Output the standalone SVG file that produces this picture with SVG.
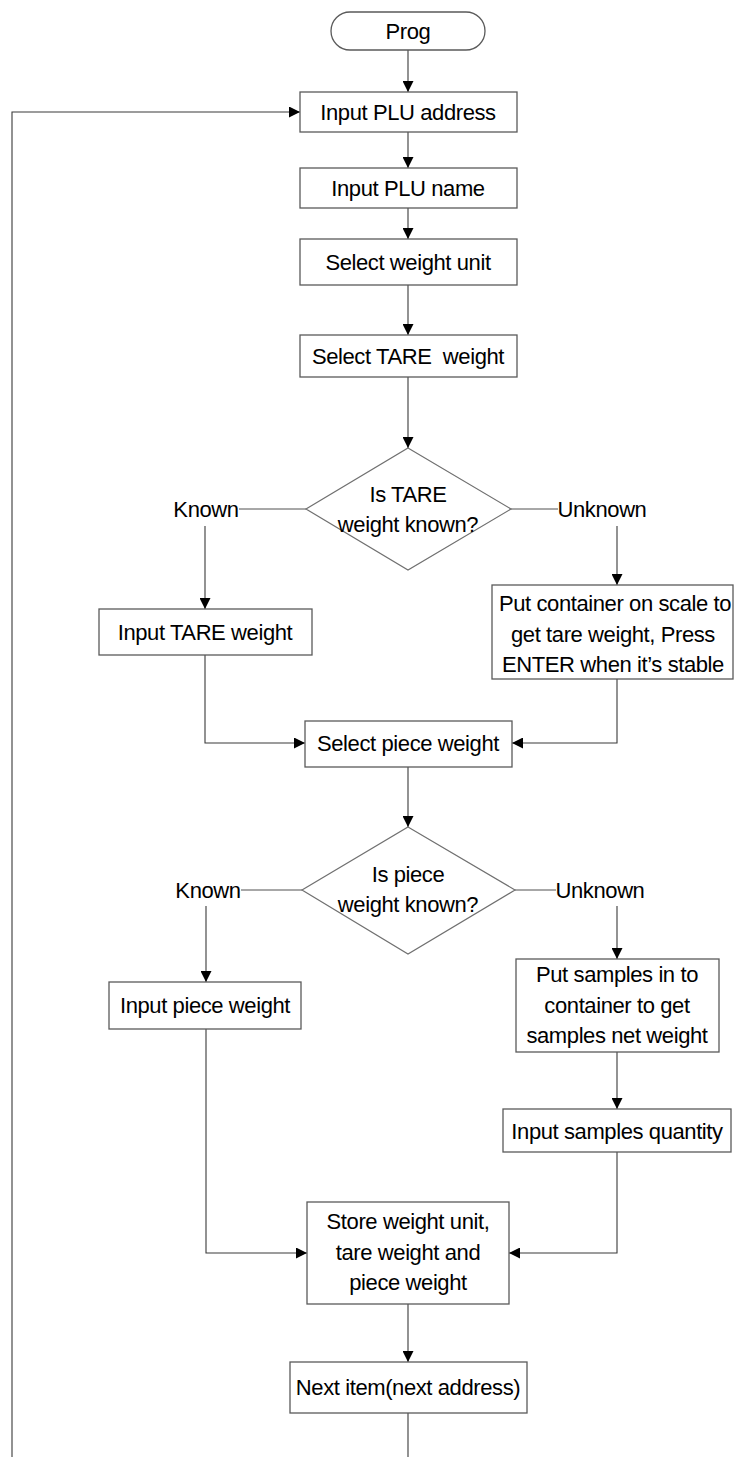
<svg xmlns="http://www.w3.org/2000/svg" width="734" height="1457" viewBox="0 0 734 1457">
<style>
.bg{fill:#ffffff}
.box{fill:#ffffff;stroke:#5a5a5a;stroke-width:1.3}
.dia{fill:#ffffff;stroke:#707070;stroke-width:1.2}
.ln{fill:none;stroke:#3a3a3a;stroke-width:1.1}
.lnk{fill:none;stroke:#505050;stroke-width:1}
.t{font-family:"Liberation Sans",Arial,sans-serif;font-size:22px;letter-spacing:-0.4px;fill:#000000;text-anchor:middle}
</style>
<defs>
<marker id="ah" markerUnits="userSpaceOnUse" markerWidth="11" markerHeight="11" refX="11" refY="5.5" orient="auto">
<path d="M0,0 L11,5.5 L0,11 z" fill="#000000"/>
</marker>
</defs>
<rect class="bg" x="0" y="0" width="734" height="1457"/>
<g id="connectors">
<path class="ln" d="M408,50 V92" marker-end="url(#ah)"/>
<path class="ln" d="M408,132 V168" marker-end="url(#ah)"/>
<path class="ln" d="M408,208 V239" marker-end="url(#ah)"/>
<path class="ln" d="M408,285 V335" marker-end="url(#ah)"/>
<path class="ln" d="M408,377 V448" marker-end="url(#ah)"/>
<path class="lnk" d="M306,509 H239"/>
<path class="ln" d="M205,526 V609" marker-end="url(#ah)"/>
<path class="lnk" d="M511,509 H558"/>
<path class="ln" d="M617,526 V585" marker-end="url(#ah)"/>
<path class="ln" d="M205,655 V743 H305" marker-end="url(#ah)"/>
<path class="ln" d="M617,679 V743 H512" marker-end="url(#ah)"/>
<path class="ln" d="M408,767 V827" marker-end="url(#ah)"/>
<path class="lnk" d="M302,890 H241"/>
<path class="ln" d="M206,906 V982" marker-end="url(#ah)"/>
<path class="lnk" d="M515,890 H556"/>
<path class="ln" d="M617,906 V959" marker-end="url(#ah)"/>
<path class="ln" d="M617,1052 V1109" marker-end="url(#ah)"/>
<path class="ln" d="M206,1029 V1253 H307" marker-end="url(#ah)"/>
<path class="ln" d="M617,1152 V1253 H509" marker-end="url(#ah)"/>
<path class="ln" d="M408,1304 V1362" marker-end="url(#ah)"/>
<path class="ln" d="M408,1413 V1457"/>
<path class="ln" d="M12,1457 V112 H300" stroke-width="1.4" marker-end="url(#ah)"/>
</g>
<g id="prog">
<rect class="box" x="331" y="12" width="154" height="38" rx="19" ry="19"/>
<text class="t" x="408" y="39">Prog</text>
</g>
<g id="input-plu-address">
<rect class="box" x="300" y="92" width="217" height="40"/>
<text class="t" x="408" y="120">Input PLU address</text>
</g>
<g id="input-plu-name">
<rect class="box" x="300" y="168" width="217" height="40"/>
<text class="t" x="408" y="196">Input PLU name</text>
</g>
<g id="select-weight-unit">
<rect class="box" x="300" y="239" width="217" height="46"/>
<text class="t" x="408" y="270">Select weight unit</text>
</g>
<g id="select-tare-weight">
<rect class="box" x="300" y="335" width="217" height="42"/>
<text class="t" x="408" y="364" xml:space="preserve">Select TARE  weight</text>
</g>
<g id="is-tare-known">
<polygon class="dia" points="408,448 511,509 408,570 306,509"/>
<text class="t" x="408" y="502">Is TARE</text>
<text class="t" x="408" y="532">weight known?</text>
</g>
<g id="label-known-1">
<text class="t" x="206" y="517">Known</text>
</g>
<g id="label-unknown-1">
<text class="t" x="602" y="517">Unknown</text>
</g>
<g id="input-tare-weight">
<rect class="box" x="99" y="609" width="213" height="46"/>
<text class="t" x="205" y="640">Input TARE weight</text>
</g>
<g id="put-container">
<rect class="box" x="492" y="585" width="241" height="94"/>
<text class="t" x="615" y="611">Put container on scale to</text>
<text class="t" x="613" y="642">get tare weight, Press</text>
<text class="t" x="613" y="672">ENTER when it’s stable</text>
</g>
<g id="select-piece-weight">
<rect class="box" x="305" y="721" width="207" height="46"/>
<text class="t" x="408" y="751">Select piece weight</text>
</g>
<g id="is-piece-known">
<polygon class="dia" points="408,827 515,890 408,954 302,890"/>
<text class="t" x="408" y="882">Is piece</text>
<text class="t" x="408" y="912">weight known?</text>
</g>
<g id="label-known-2">
<text class="t" x="208" y="898">Known</text>
</g>
<g id="label-unknown-2">
<text class="t" x="600" y="898">Unknown</text>
</g>
<g id="input-piece-weight">
<rect class="box" x="109" y="982" width="192" height="47"/>
<text class="t" x="205" y="1013">Input piece weight</text>
</g>
<g id="put-samples">
<rect class="box" x="516" y="959" width="203" height="93"/>
<text class="t" x="617" y="982">Put samples in to</text>
<text class="t" x="617" y="1013">container to get</text>
<text class="t" x="617" y="1043">samples net weight</text>
</g>
<g id="input-samples-quantity">
<rect class="box" x="503" y="1109" width="228" height="43"/>
<text class="t" x="617" y="1139">Input samples quantity</text>
</g>
<g id="store">
<rect class="box" x="307" y="1202" width="202" height="102"/>
<text class="t" x="408" y="1229">Store weight unit,</text>
<text class="t" x="408" y="1260">tare weight and</text>
<text class="t" x="408" y="1290">piece weight</text>
</g>
<g id="next-item">
<rect class="box" x="290" y="1362" width="237" height="51"/>
<text class="t" x="408" y="1395">Next item(next address)</text>
</g>
</svg>
